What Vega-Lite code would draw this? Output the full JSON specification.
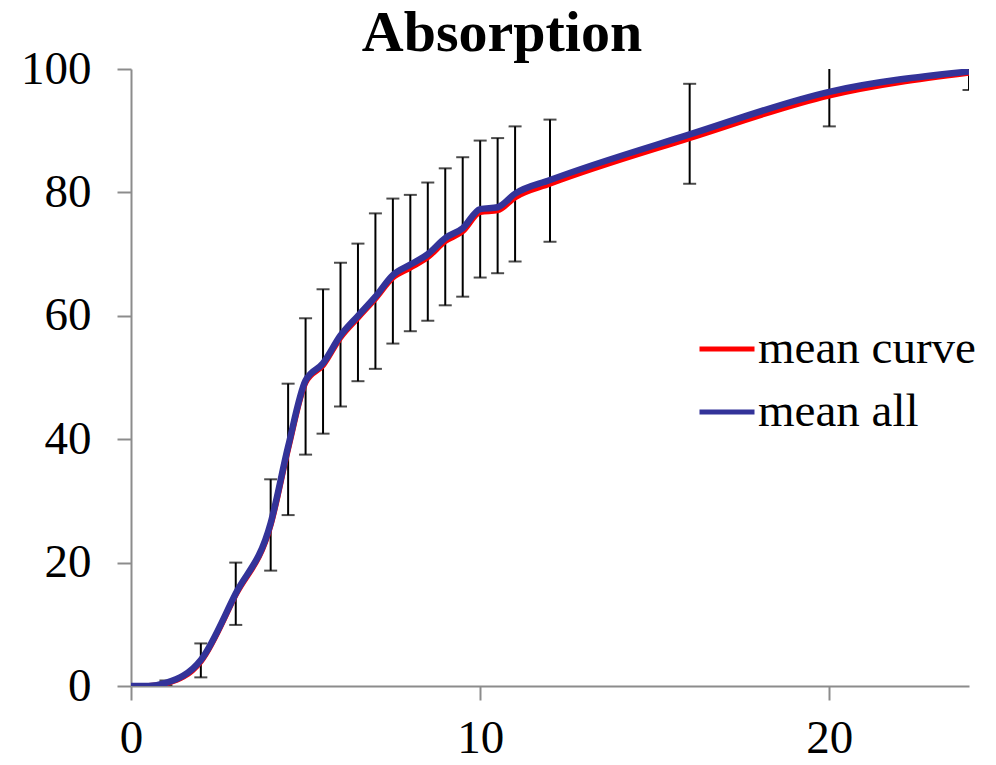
{
  "$schema": "https://vega.github.io/schema/vega-lite/v6.json",
  "autosize": {"type": "none"},
  "padding": {"left": 131, "top": 69, "right": 27, "bottom": 79},
  "width": 838,
  "height": 617,
  "background": "white",
  "title": {
    "text": "Absorption",
    "font": "Liberation Serif",
    "fontSize": 58,
    "fontWeight": "bold",
    "color": "black",
    "anchor": "middle",
    "dx": -48,
    "dy": 32,
    "offset": 14
  },
  "config": {
    "view": {"stroke": null},
    "axis": {
      "labelFont": "Liberation Serif",
      "labelFontSize": 47,
      "labelColor": "black",
      "labelFlush": false,
      "labelOverlap": false,
      "domainColor": "#8c8c8c",
      "domainWidth": 2,
      "tickColor": "#8c8c8c",
      "tickWidth": 2,
      "tickSize": 14,
      "grid": false,
      "title": null
    },
    "legend": {
      "labelFont": "Liberation Serif",
      "labelFontSize": 47,
      "labelColor": "black",
      "labelLimit": 500
    }
  },
  "datasets": {
    "lines": [
      {"t": 0, "mean curve": 0, "mean all": 0},
      {"t": 0.5, "mean curve": 0, "mean all": 0},
      {"t": 1, "mean curve": 0.4, "mean all": 0.5},
      {"t": 2, "mean curve": 4.0, "mean all": 4.2},
      {"t": 3, "mean curve": 14.8, "mean all": 15.0},
      {"t": 4, "mean curve": 26.1, "mean all": 26.4},
      {"t": 4.5, "mean curve": 38.4, "mean all": 38.8},
      {"t": 5, "mean curve": 49.2, "mean all": 49.5},
      {"t": 5.5, "mean curve": 52.0, "mean all": 52.3},
      {"t": 6, "mean curve": 56.5, "mean all": 56.8},
      {"t": 6.5, "mean curve": 59.7, "mean all": 60.0},
      {"t": 7, "mean curve": 62.8, "mean all": 63.1},
      {"t": 7.5, "mean curve": 66.2, "mean all": 66.6},
      {"t": 8, "mean curve": 67.8, "mean all": 68.3},
      {"t": 8.5, "mean curve": 69.5, "mean all": 70.0},
      {"t": 9, "mean curve": 72.1, "mean all": 72.6},
      {"t": 9.5, "mean curve": 73.7, "mean all": 74.2},
      {"t": 10, "mean curve": 76.8, "mean all": 77.3},
      {"t": 10.5, "mean curve": 77.1, "mean all": 77.6},
      {"t": 11, "mean curve": 79.2, "mean all": 79.8},
      {"t": 12, "mean curve": 81.4, "mean all": 82.0},
      {"t": 16, "mean curve": 88.8, "mean all": 89.4},
      {"t": 20, "mean curve": 95.7, "mean all": 96.3},
      {"t": 24, "mean curve": 99.4, "mean all": 99.6}
    ],
    "err": [
      {"t": 1, "low": 0.1, "high": 0.9},
      {"t": 2, "low": 1.4, "high": 6.9},
      {"t": 3, "low": 9.9, "high": 20.0},
      {"t": 4, "low": 18.7, "high": 33.5},
      {"t": 4.5, "low": 27.7, "high": 49.0},
      {"t": 5, "low": 37.5, "high": 59.6},
      {"t": 5.5, "low": 40.9, "high": 64.3},
      {"t": 6, "low": 45.3, "high": 68.6},
      {"t": 6.5, "low": 49.4, "high": 71.7},
      {"t": 7, "low": 51.4, "high": 76.6},
      {"t": 7.5, "low": 55.5, "high": 79.0},
      {"t": 8, "low": 57.5, "high": 79.6},
      {"t": 8.5, "low": 59.2, "high": 81.6},
      {"t": 9, "low": 61.7, "high": 83.9},
      {"t": 9.5, "low": 63.1, "high": 85.7},
      {"t": 10, "low": 66.2, "high": 88.4},
      {"t": 10.5, "low": 66.9, "high": 88.8},
      {"t": 11, "low": 68.8, "high": 90.7},
      {"t": 12, "low": 72.0, "high": 91.8},
      {"t": 16, "low": 81.4, "high": 97.6},
      {"t": 20, "low": 90.7, "high": 102.0},
      {"t": 24, "low": 96.6, "high": 102.6}
    ]
  },
  "layer": [
    {
      "data": {"name": "err"},
      "mark": {"type": "rule", "color": "black", "strokeWidth": 2, "clip": true},
      "encoding": {
        "x": {"field": "t", "type": "quantitative", "scale": {"domain": [0, 24], "nice": false}, "axis": {"values": [0, 10, 20], "labelPadding": 15}},
        "y": {"field": "low", "type": "quantitative", "scale": {"domain": [0, 100], "nice": false}, "axis": {"values": [0, 20, 40, 60, 80, 100], "labelPadding": 26}},
        "y2": {"field": "high"}
      }
    },
    {
      "data": {"name": "err"},
      "mark": {"type": "tick", "color": "black", "orient": "horizontal", "size": 13, "thickness": 2, "clip": true},
      "encoding": {
        "x": {"field": "t", "type": "quantitative"},
        "y": {"field": "low", "type": "quantitative"}
      }
    },
    {
      "data": {"name": "err"},
      "mark": {"type": "tick", "color": "black", "orient": "horizontal", "size": 13, "thickness": 2, "clip": true},
      "encoding": {
        "x": {"field": "t", "type": "quantitative"},
        "y": {"field": "high", "type": "quantitative"}
      }
    },
    {
      "data": {"name": "lines"},
      "mark": {"type": "line", "interpolate": "monotone", "strokeWidth": 6, "clip": true},
      "encoding": {
        "x": {"field": "t", "type": "quantitative"},
        "y": {"field": "mean curve", "type": "quantitative"},
        "color": {
          "datum": "mean curve",
          "scale": {"domain": ["mean curve", "mean all"], "range": ["#ff0000", "#333399"]},
          "legend": {
            "orient": "none",
            "legendX": 566,
            "legendY": 250,
            "title": null,
            "symbolType": "stroke",
            "symbolSize": 3025,
            "symbolStrokeWidth": 5,
            "labelOffset": 1,
            "rowPadding": 10
          }
        }
      }
    },
    {
      "data": {"name": "lines"},
      "mark": {"type": "line", "interpolate": "monotone", "strokeWidth": 6.5, "clip": true},
      "encoding": {
        "x": {"field": "t", "type": "quantitative"},
        "y": {"field": "mean all", "type": "quantitative"},
        "color": {"datum": "mean all"}
      }
    }
  ]
}
